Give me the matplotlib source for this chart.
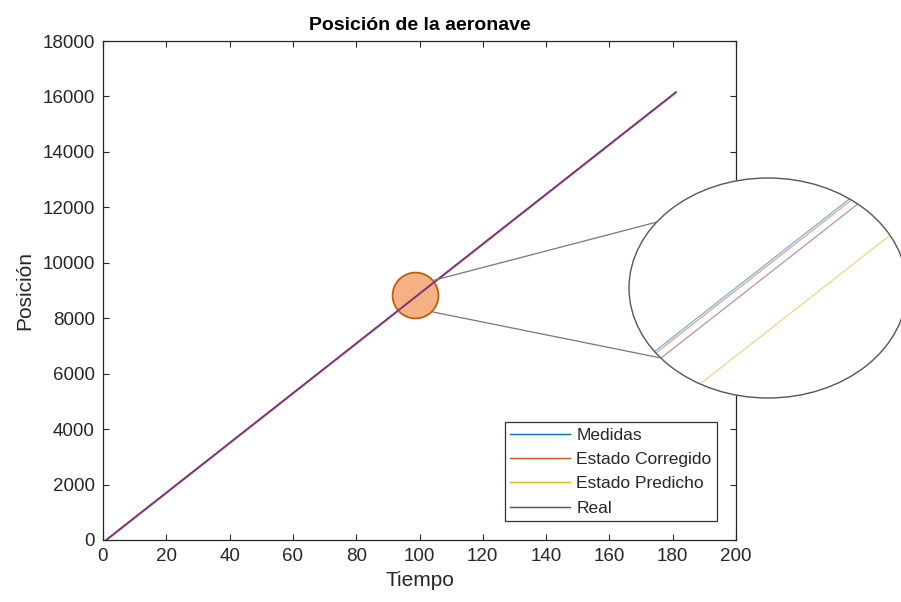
import matplotlib
matplotlib.use("Agg")
import matplotlib.pyplot as plt
from matplotlib.patches import Ellipse
from matplotlib.lines import Line2D

plt.rcParams['font.family'] = ['Liberation Sans', 'DejaVu Sans']

# data (straight tracks, start and end points)
tiempo = [1, 181]
medidas = [7, 16157]
corregido = [6, 16155]
predicho = [-34, 16116]
real = [0, 16150]

series = [("Medidas", medidas, "#0072BD"),
          ("Estado Corregido", corregido, "#D95319"),
          ("Estado Predicho", predicho, "#EDB120"),
          ("Real", real, "#7E2F8E")]

# spot that is magnified
zoom_t, zoom_p = 98.6, 8840

axc = "#262626"
W, H = 901, 602
fig = plt.figure(figsize=(W / 100, H / 100), dpi=100)
ax = fig.add_axes([103 / W, 62 / H, 633 / W, 499 / H])

for name, vals, col in series:
    ax.plot(tiempo, vals, color=col, lw=1.3 if name == "Real" else 0.7,
            label=name, zorder=3)

# orange circle marking the magnified spot
ax.plot(zoom_t, zoom_p, 'o', ms=33, mfc="#F4B183", mec="#C55A11", mew=1.3, zorder=2)

ax.set_xlim(0, 200)
ax.set_ylim(0, 18000)
ax.set_xticks(range(0, 201, 20))
ax.set_yticks(range(0, 18001, 2000))
ax.tick_params(direction='in', top=True, right=True, length=4, width=0.8,
               labelsize=13.5, colors=axc, pad=6)
for sp in ax.spines.values():
    sp.set_color(axc)
    sp.set_linewidth(0.9)
ax.set_title("Posición de la aeronave", fontsize=14, fontweight='bold', color='black', pad=8)
ax.set_xlabel("Tiempo", fontsize=15, color=axc, labelpad=4)
ax.set_ylabel("Posición", fontsize=15, color=axc, labelpad=6)

handles = [Line2D([], [], color=col, lw=1.0) for _, _, col in series]
leg = ax.legend(handles, [s[0] for s in series], loc='lower right', fontsize=12.5,
                frameon=True, fancybox=False, handlelength=3.4, handletextpad=0.4,
                labelspacing=0.53, borderaxespad=1.1, borderpad=0.3)
leg.get_frame().set_edgecolor("black")
leg.get_frame().set_linewidth(0.9)
for t in leg.get_texts():
    t.set_color(axc)

# connector lines from circle to magnified view
for (x0, y0), (x1, y1) in [((435, 280), (657, 222)), ((433, 312), (661, 358))]:
    fig.add_artist(Line2D([x0 / W, x1 / W], [1 - y0 / H, 1 - y1 / H],
                          transform=fig.transFigure, color="#777777", lw=0.9))

# magnified view inside an ellipse
axi = fig.add_axes([629 / W, 204 / H, 278 / W, 220 / H])
axi.axis('off')
ell = Ellipse((0.5, 0.5), 1, 1, transform=axi.transAxes, fc='white',
              ec="#555555", lw=1.0, clip_on=False, zorder=1)
axi.add_patch(ell)
for name, vals, col in series:
    ln, = axi.plot(tiempo, vals, color=col, lw=0.9, alpha=0.55, zorder=2)
    ln.set_clip_path(ell)
axi.set_xlim(97.27, 98.73)
axi.set_ylim(8628.6, 8761.0)

fig.savefig("out.png", dpi=100)
